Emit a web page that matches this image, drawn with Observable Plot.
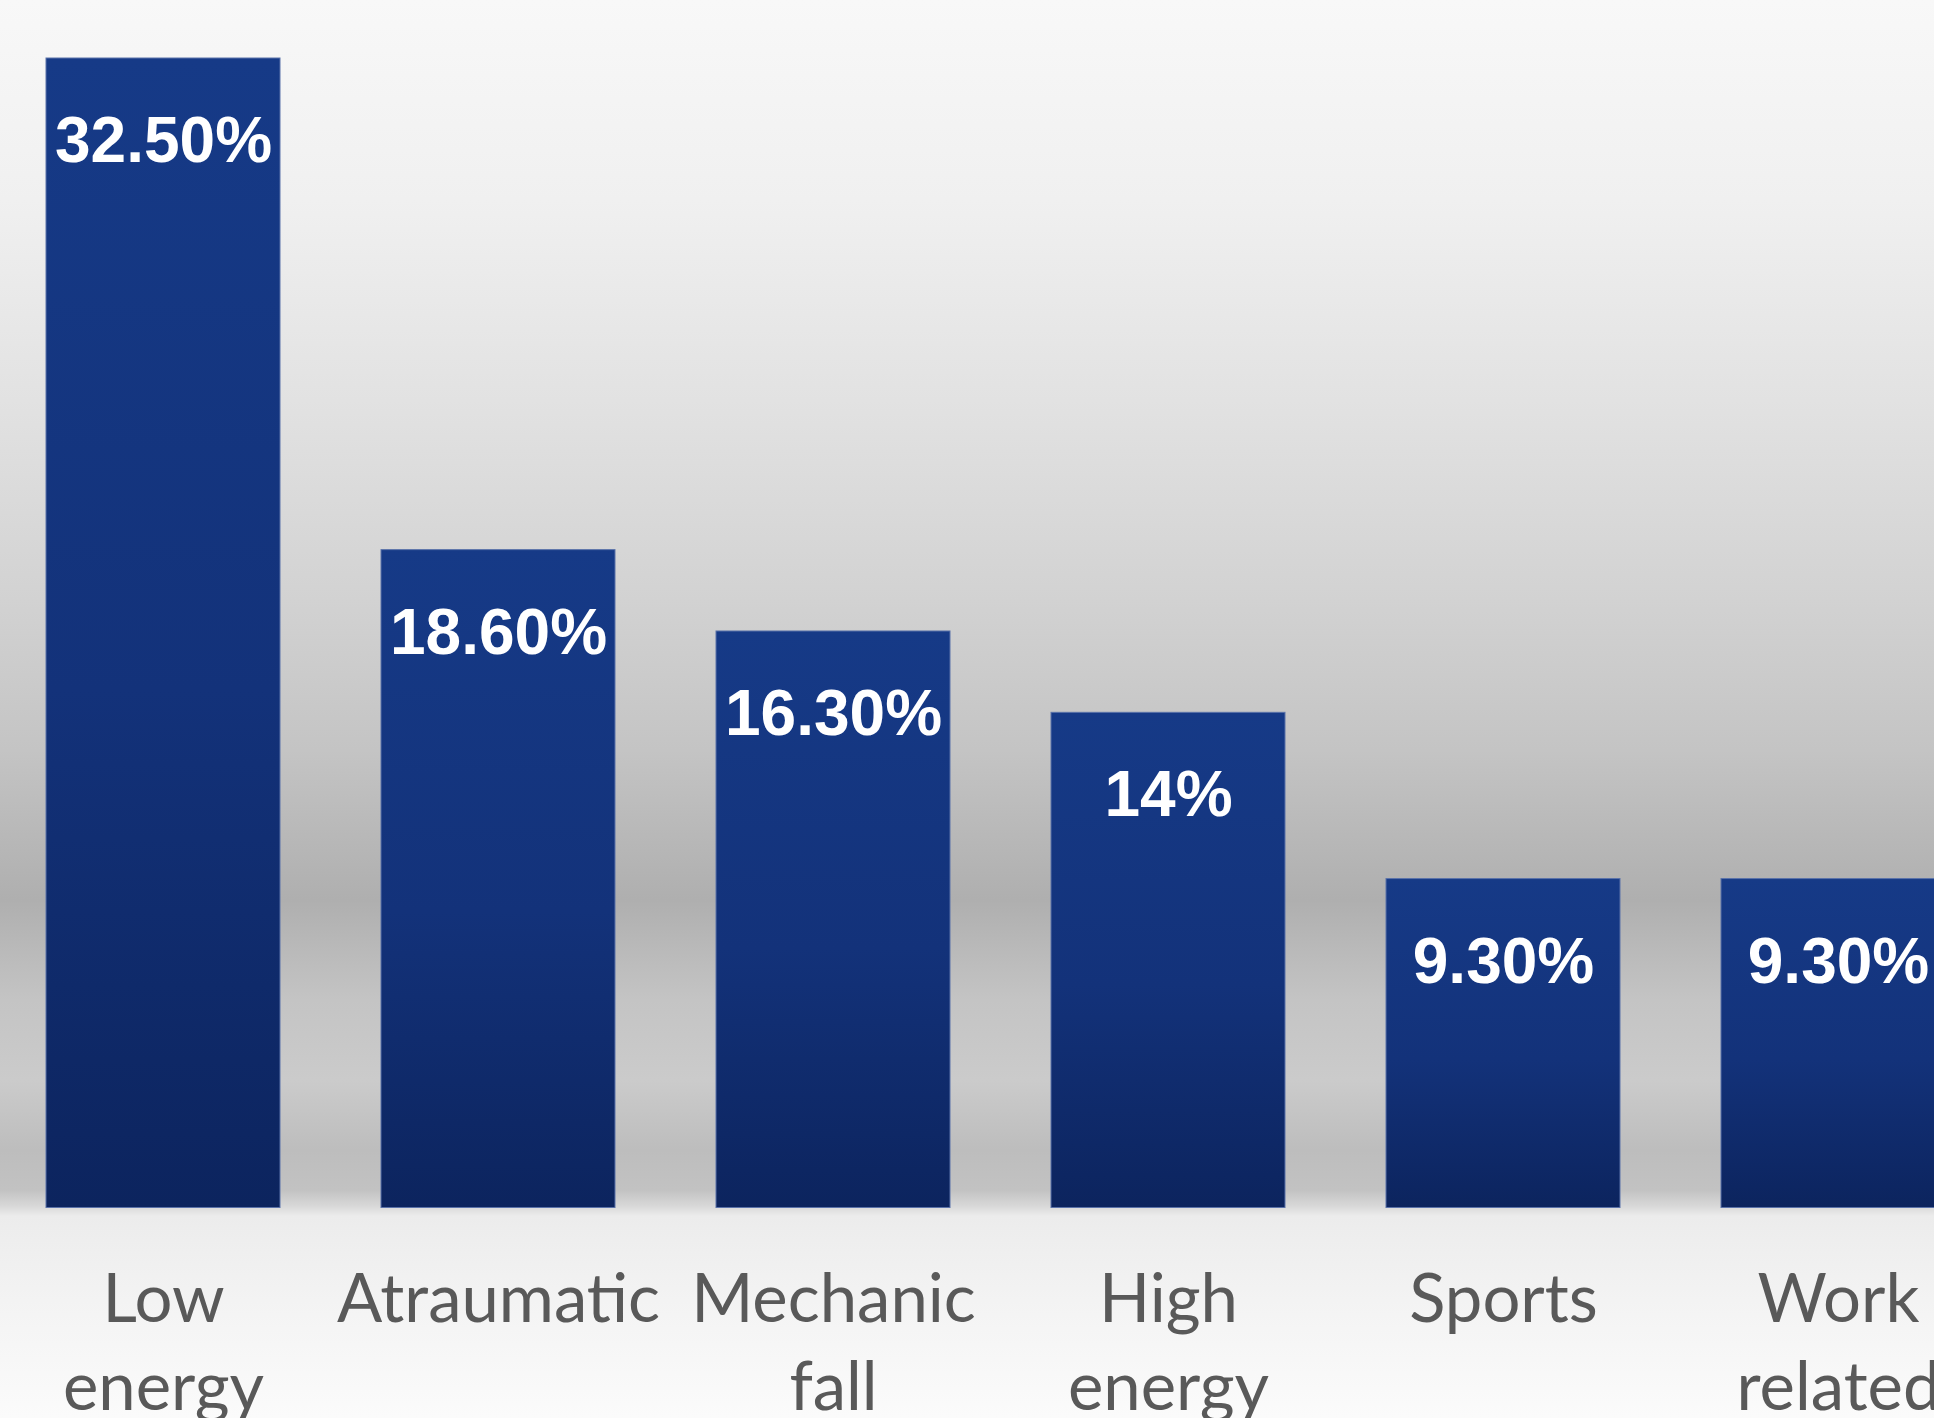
<!DOCTYPE html>
<html>
<head>
<meta charset="utf-8">
<script src="https://cdn.jsdelivr.net/npm/d3@7"></script>
<script src="https://cdn.jsdelivr.net/npm/@observablehq/plot@0.6"></script>
<style>
  html, body { margin: 0; padding: 0; overflow: hidden; background: #f8f8f8; }
  #chart { width: 1934px; height: 1418px; overflow: hidden; }
</style>
</head>
<body>
<div id="chart"></div>
<script>
const categories = ["Low energy", "Atraumatic", "Mechanic fall", "High energy", "Sports", "Work related"];
const categoryLines = ["Low\nenergy", "Atraumatic", "Mechanic\nfall", "High\nenergy", "Sports", "Work\nrelated"];
const values = [32.5, 18.6, 16.3, 14, 9.3, 9.3];
const valueLabels = ["32.50%", "18.60%", "16.30%", "14%", "9.30%", "9.30%"];

const data = categories.map((c, i) => ({cat: c, value: values[i], label: valueLabels[i], line: categoryLines[i]}));

const W = 2000, H = 1450;

const plot = Plot.plot({
  width: W,
  height: H,
  marginLeft: 43,
  marginRight: 42,
  marginTop: 58,
  marginBottom: H - 1207.5,
  style: {
    maxWidth: "none",
    overflow: "hidden",
    background: "linear-gradient(to bottom, #f8f8f8 0px, #f0f0f0 200px, #e2e2e2 400px, #d2d2d2 600px, #c4c4c4 750px, #b6b6b6 850px, #afafaf 900px, #c4c4c4 1000px, #cbcbcb 1080px, #bdbdbd 1150px, #c2c2c2 1190px, #d8d8d8 1206px, #ececec 1216px, #f3f3f3 1300px, #fbfbfb 1418px)"
  },
  x: {domain: categories, paddingInner: 0.3, paddingOuter: 0, axis: null},
  y: {domain: [0, d3.max(values)], axis: null},
  marks: [
    Plot.barY(data, {x: "cat", y: "value", fill: "url(#barGrad)", stroke: "#5a72aa", strokeWidth: 1}),
    Plot.text(data, {
      x: "cat", y: "value", text: "label", dy: 83, lineAnchor: "middle",
      fill: "white", fontWeight: "bold", fontSize: 64,
      fontFamily: "'Liberation Sans', Arial, sans-serif"
    }),
    Plot.text(data, {
      x: "cat", frameAnchor: "bottom", text: "line", dy: 52, lineAnchor: "top",
      lineHeight: 1.31, fill: "#595959", fontSize: 67,
      fontFamily: "Lato, 'Open Sans', sans-serif"
    })
  ]
});

const svg = d3.select(plot);
const defs = svg.insert("defs", ":first-child");
const g = defs.append("linearGradient").attr("id", "barGrad")
  .attr("x1", 0).attr("y1", 0).attr("x2", 0).attr("y2", 1);
g.append("stop").attr("offset", "0%").attr("stop-color", "#163a87");
g.append("stop").attr("offset", "55%").attr("stop-color", "#13327a");
g.append("stop").attr("offset", "100%").attr("stop-color", "#0c245e");

document.getElementById("chart").appendChild(plot);
</script>
</body>
</html>
